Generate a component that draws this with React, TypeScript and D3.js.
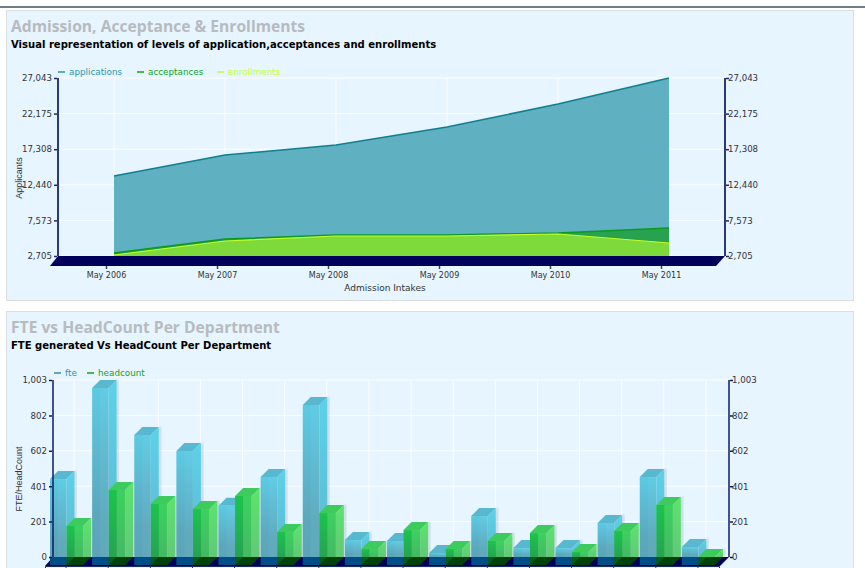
import React, { useEffect, useRef } from 'react';
import * as d3 from 'd3';

const intakes = ['May 2006', 'May 2007', 'May 2008', 'May 2009', 'May 2010', 'May 2011'];
const applications = [13644, 16515, 17882, 20343, 23488, 27043];
const acceptances = [3115, 5029, 5576, 5576, 5850, 6533];
const enrollments = [2842, 4756, 5440, 5440, 5713, 4482];
const admissionTicks = [2705, 7573, 12440, 17308, 22175, 27043];

const departments = d3.range(1, 17).map(d => `D${d}`);
const fte = [487, 1003, 737, 646, 336, 499, 907, 142, 136, 68, 278, 96, 96, 238, 499, 102];
const headcount = [221, 425, 346, 317, 391, 187, 295, 91, 198, 91, 136, 181, 74, 193, 340, 45];
const fteTicks = [0, 201, 401, 602, 802, 1003];

const TEXT = '"DejaVu Sans", sans-serif';

type Sel = d3.Selection<SVGSVGElement, unknown, null, undefined>;

function styleAxis(g: any, color: string, fontSize = 8.6) {
  g.select('.domain').remove();
  g.selectAll('.tick line').attr('stroke', color).attr('stroke-width', 1.5);
  g.selectAll('.tick text').attr('fill', '#333').attr('font-size', fontSize).attr('font-family', TEXT);
}

function panel(svg: Sel, y: number, h: number, title: string, subtitle: string) {
  svg.append('rect').attr('x', 6.5).attr('y', y + 0.5).attr('width', 847).attr('height', h)
    .attr('fill', '#e6f5ff').attr('stroke', '#dcdfe2');
  svg.append('text').attr('x', 11).attr('y', y + 21.5).attr('fill', '#b8bbbd')
    .attr('font-family', '"Open Sans", sans-serif').attr('font-weight', 700).attr('font-size', 15.65).text(title);
  svg.append('text').attr('x', 11).attr('y', y + 38).attr('fill', '#000')
    .attr('font-family', TEXT).attr('font-weight', 700).attr('font-size', 10.05).text(subtitle);
}

function legend(svg: Sel, y: number, items: { label: string; color: string; x: number }[]) {
  items.forEach(it => {
    svg.append('line').attr('x1', it.x).attr('x2', it.x + 7).attr('y1', y).attr('y2', y)
      .attr('stroke', it.color).attr('stroke-width', 1.5);
    svg.append('text').attr('x', it.x + 11).attr('y', y + 3).attr('fill', it.color)
      .attr('font-family', TEXT).attr('font-size', 8.8).text(it.label);
  });
}

function axisTitle(svg: Sel, x: number, y: number, text: string, rotate = false, font = '"Liberation Sans", sans-serif') {
  svg.append('text')
    .attr('transform', `translate(${x},${y})${rotate ? ' rotate(-90)' : ''}`)
    .attr('text-anchor', 'middle').attr('fill', '#333')
    .attr('font-family', font).attr('font-size', 9).text(text);
}

function admissionChart(svg: Sel) {
  const left = 58, right = 725, top = 78, bottom = 256;
  const y = d3.scaleLinear().domain([2705, 27043]).range([bottom, top]);
  const xFront = d3.scalePoint<string>().domain(intakes).range([106, 661]);
  const xBack = d3.scalePoint<string>().domain(intakes).range([114, 669]);

  // grid
  admissionTicks.forEach(t => {
    svg.append('line').attr('x1', left).attr('x2', right).attr('y1', y(t)).attr('y2', y(t))
      .attr('stroke', '#fff').attr('stroke-opacity', 0.85);
  });
  intakes.forEach(c => {
    svg.append('line').attr('x1', xBack(c)!).attr('x2', xBack(c)!).attr('y1', top).attr('y2', bottom)
      .attr('stroke', '#fff').attr('stroke-opacity', 0.85);
  });

  // areas
  const series = [
    { values: applications, fill: '#5fb0c1', stroke: '#0f7f90', w: 1.5 },
    { values: acceptances, fill: '#28a24e', stroke: '#0a9a22', w: 1.5 },
    { values: enrollments, fill: '#7ed93a', stroke: '#c4ff2a', w: 1.2 },
  ];
  series.forEach(s => {
    const area = d3.area<number>()
      .x((_, i) => xBack(intakes[i])!)
      .y0(bottom)
      .y1(d => y(d));
    const line = d3.line<number>()
      .x((_, i) => xBack(intakes[i])!)
      .y(d => y(d));
    svg.append('path').attr('d', area(s.values)!).attr('fill', s.fill);
    svg.append('path').attr('d', line(s.values)!).attr('fill', 'none').attr('stroke', s.stroke).attr('stroke-width', s.w);
  });

  // floor + walls
  svg.append('path').attr('d', `M${left},${bottom}L${right},${bottom}L716,266L50,266Z`).attr('fill', '#00005a');
  svg.append('line').attr('x1', left).attr('x2', left).attr('y1', top).attr('y2', bottom).attr('stroke', '#2d3a78').attr('stroke-width', 2);
  svg.append('line').attr('x1', right).attr('x2', right).attr('y1', top).attr('y2', bottom).attr('stroke', '#2d3a78').attr('stroke-width', 2);

  const yLeft = d3.axisLeft(y).tickValues(admissionTicks).tickFormat(d3.format(',') as any).tickSize(3).tickPadding(2);
  const yRight = d3.axisRight(y).tickValues(admissionTicks).tickFormat(d3.format(',') as any).tickSize(3).tickPadding(-1);
  svg.append('g').attr('transform', `translate(${left - 1},0)`).call(yLeft).call(styleAxis, '#1c2a6a');
  svg.append('g').attr('transform', `translate(${right + 1},0)`).call(yRight).call(styleAxis, '#1c2a6a');
  svg.append('g').attr('transform', 'translate(0,266)')
    .call(d3.axisBottom(xFront).tickSize(3).tickPadding(3)).call(styleAxis, '#445', 8);

  axisTitle(svg, 22, 178, 'Applicants', true);
  axisTitle(svg, 385, 291, 'Admission Intakes', false, TEXT);
  legend(svg, 72, [
    { label: 'applications', color: '#2b95ad', x: 58 },
    { label: 'acceptances', color: '#11a51c', x: 137 },
    { label: 'enrollments', color: '#c6ff33', x: 217 },
  ]);
}

function gradient(defs: any, id: string, stops: [number, string][]) {
  const g = defs.append('linearGradient').attr('id', id).attr('x1', 0).attr('y1', 0).attr('x2', 0).attr('y2', 1);
  stops.forEach(([o, c]) => g.append('stop').attr('offset', o).attr('stop-color', c));
}

function headcountChart(svg: Sel) {
  const left = 53, right = 729, top = 380, bottom = 557;
  const dx = 8, dy = 8;
  const yBack = d3.scaleLinear().domain([0, 1003]).range([bottom, top]);
  const xGroup = d3.scaleBand<string>().domain(departments).range([45, 719]);
  const xSeries = d3.scaleBand<string>().domain(['fte', 'headcount']).range([5, xGroup.bandwidth() - 4]);

  const defs = svg.append('defs');
  gradient(defs, 'fteFront', [[0, '#5ccae3'], [0.75, '#5ba8bd'], [1, '#5ba5ba']]);
  gradient(defs, 'fteSide', [[0, '#5bd2ea'], [1, '#5eb8cf']]);
  gradient(defs, 'hcFront', [[0, '#1cc44c'], [1, '#27a252']]);
  gradient(defs, 'hcSide', [[0, '#5ce46c'], [1, '#62c878']]);
  const blur = defs.append('filter').attr('id', 'barShadow');
  blur.append('feGaussianBlur').attr('stdDeviation', 0.8);

  fteTicks.forEach(t => {
    svg.append('line').attr('x1', left).attr('x2', right).attr('y1', yBack(t)).attr('y2', yBack(t))
      .attr('stroke', '#fff').attr('stroke-opacity', 0.85);
  });
  departments.forEach(c => {
    const gx = xGroup(c)! + xGroup.bandwidth() / 2 + dx;
    svg.append('line').attr('x1', gx).attr('x2', gx).attr('y1', top).attr('y2', bottom)
      .attr('stroke', '#fff').attr('stroke-opacity', 0.85);
  });

  svg.append('path').attr('d', `M${left},${bottom}L${right},${bottom}L720,566L45,566Z`).attr('fill', '#00005a');

  const bar = (c: string, key: string, v: number) => {
    const w = xSeries.bandwidth();
    const x0 = xGroup(c)! + xSeries(key)!;
    const x1 = x0 + w;
    const yb = bottom + dy; // front baseline
    const yt = yBack(v) + dy;
    const isFte = key === 'fte';
    const g = svg.append('g');
    g.append('path').attr('d', `M${x1 + dx},${yt - dy}h2V${bottom}h-2Z`)
      .attr('fill', '#345').attr('fill-opacity', 0.22).attr('filter', 'url(#barShadow)');
    // front over floor, then bottom face
    g.append('rect').attr('x', x0).attr('y', bottom).attr('width', w).attr('height', dy)
      .attr('fill', isFte ? '#004e88' : '#005c16');
    g.append('path').attr('d', `M${x0},${yb}L${x0 + dx},${bottom}H${x1 + dx}L${x1},${yb}Z`)
      .attr('fill', isFte ? '#004e88' : '#00420c');
    // side
    g.append('path').attr('d', `M${x1},${yt}L${x1 + dx},${yt - dy}V${bottom}H${x1}Z`)
      .attr('fill', `url(#${isFte ? 'fteSide' : 'hcSide'})`);
    // front
    g.append('rect').attr('x', x0).attr('y', yt).attr('width', w).attr('height', Math.max(0, bottom - yt))
      .attr('fill', `url(#${isFte ? 'fteFront' : 'hcFront'})`);
    // back face seen through the translucent front
    g.append('rect').attr('x', x0 + dx).attr('y', yt).attr('width', w - dx).attr('height', Math.max(0, bottom - yt))
      .attr('fill', isFte ? '#fff' : '#8cf090').attr('fill-opacity', isFte ? 0.04 : 0.3);
    // top
    g.append('path').attr('d', `M${x0},${yt}L${x0 + dx},${yt - dy}H${x1 + dx}L${x1},${yt}Z`)
      .attr('fill', isFte ? '#58b8d0' : '#3ccb5c');
  };

  departments.forEach((c, i) => {
    bar(c, 'fte', fte[i]);
    bar(c, 'headcount', headcount[i]);
  });

  svg.append('line').attr('x1', left).attr('x2', left).attr('y1', top).attr('y2', bottom).attr('stroke', '#0c1a66').attr('stroke-width', 1.5);
  svg.append('line').attr('x1', right).attr('x2', right).attr('y1', top).attr('y2', bottom).attr('stroke', '#0c1a66').attr('stroke-width', 1.5);

  const yLeft = d3.axisLeft(yBack).tickValues(fteTicks).tickFormat(d3.format(',') as any).tickSize(3).tickPadding(2);
  const yRight = d3.axisRight(yBack).tickValues(fteTicks).tickFormat(d3.format(',') as any).tickSize(3).tickPadding(-1);
  svg.append('g').attr('transform', `translate(${left - 1},0)`).call(yLeft).call(styleAxis, '#0c1a66');
  svg.append('g').attr('transform', `translate(${right + 1},0)`).call(yRight).call(styleAxis, '#0c1a66');
  svg.append('g').attr('transform', 'translate(0,566)')
    .call(d3.axisBottom(xGroup).tickSize(3).tickFormat(() => '')).call((g: any) => {
      g.select('.domain').attr('stroke', '#1c2a6a');
      g.selectAll('.tick line').attr('stroke', '#334');
    });

  axisTitle(svg, 22, 479, 'FTE/HeadCount', true);
  legend(svg, 373, [
    { label: 'fte', color: '#2b95ad', x: 54 },
    { label: 'headcount', color: '#11a51c', x: 87 },
  ]);
}

export default function App() {
  const svgRef = useRef<SVGSVGElement>(null);

  useEffect(() => {
    if (!svgRef.current) return;
    const svg = d3.select(svgRef.current) as Sel;
    svg.selectAll('*').remove();

    svg.append('rect').attr('x', 0).attr('y', 6).attr('width', 865).attr('height', 2).attr('fill', '#6e7e88');
    panel(svg, 10, 290, 'Admission, Acceptance & Enrollments', 'Visual representation of levels of application,acceptances and enrollments');
    panel(svg, 311, 280, 'FTE vs HeadCount Per Department', 'FTE generated Vs HeadCount Per Department');
    admissionChart(svg);
    headcountChart(svg);
  }, []);

  return (
    <svg ref={svgRef} width={865} height={568}
      style={{ position: 'fixed', left: 0, top: 0, display: 'block', background: '#fff' }} />
  );
}
